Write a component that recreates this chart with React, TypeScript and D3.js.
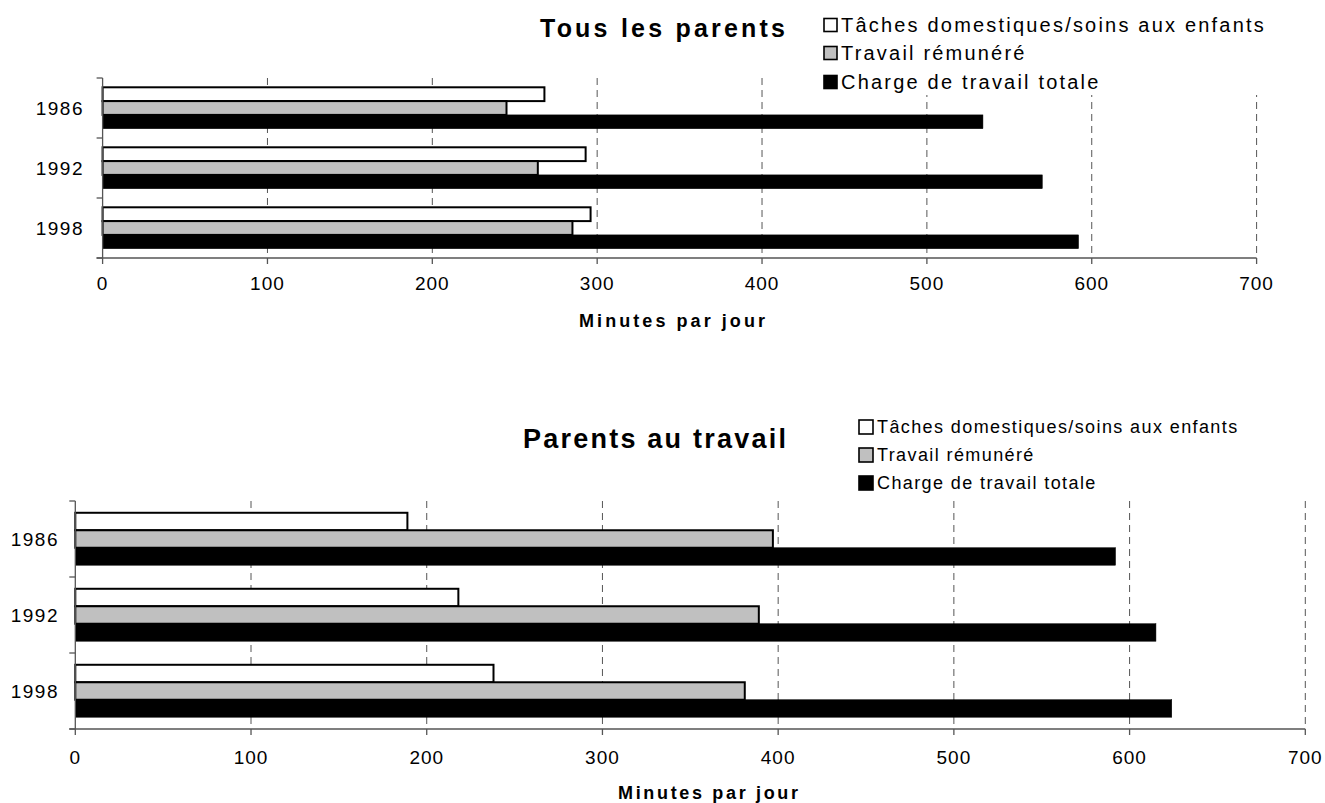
import React from "react";
import * as d3 from "d3";

const years = ["1986", "1992", "1998"];
const seriesNames = [
  "Tâches domestiques/soins aux enfants",
  "Travail rémunéré",
  "Charge de travail totale",
];
const seriesFills = ["#ffffff", "#c0c0c0", "#000000"];

const allDomestic = [268, 293, 296];
const allPaid = [245, 264, 285];
const allTotal = [534, 570, 592];

const workDomestic = [189, 218, 238];
const workPaid = [397, 389, 381];
const workTotal = [592, 615, 624];

const xTicks = [0, 100, 200, 300, 400, 500, 600, 700];
const titles = ["Tous les parents", "Parents au travail"];
const axisTitle = "Minutes par jour";

const FONT = "'Liberation Sans', Arial, Helvetica, sans-serif";

type PanelCfg = {
  title: string;
  series: number[][];
  x0: number;
  x1: number;
  yTop: number;
  yBot: number;
  titleX: number;
  titleY: number;
  titleSize: number;
  titleLen: number;
  legX: number;
  legRows: number[];
  legSize: number;
  legFont: number;
  legLs: number;
  legBg: [number, number, number, number] | null;
  yearRight: number;
  yearFont: number;
  tickLabelY: number;
  axisTitleX: number;
  axisTitleY: number;
  axisTitleLen: number;
};

function Panel({ cfg }: { cfg: PanelCfg }) {
  const x = d3.scaleLinear().domain([0, 700]).range([cfg.x0, cfg.x1]);
  const y = d3.scaleBand<string>().domain(years).range([cfg.yTop, cfg.yBot]);
  const bw = y.bandwidth();
  const pad = bw * 0.155;
  const inner = d3
    .scaleBand<number>()
    .domain([0, 1, 2])
    .range([pad, bw - pad]);
  const bh = inner.bandwidth();
  const boundaries = [cfg.yTop, ...years.map((yr) => (y(yr) as number) + bw)];

  return (
    <g>
      {xTicks.slice(1).map((t) => (
        <line
          key={"g" + t}
          x1={x(t)}
          x2={x(t)}
          y1={cfg.yTop}
          y2={cfg.yBot}
          stroke="#555"
          strokeWidth={1}
          strokeDasharray="7,5"
        />
      ))}
      {cfg.legBg && (
        <rect
          x={cfg.legBg[0]}
          y={cfg.legBg[1]}
          width={cfg.legBg[2]}
          height={cfg.legBg[3]}
          fill="#fff"
        />
      )}
      {years.map((yr, i) =>
        cfg.series.map((vals, s) => (
          <rect
            key={yr + s}
            x={x(0)}
            y={(y(yr) as number) + (inner(s) as number)}
            width={x(vals[i]) - x(0)}
            height={bh}
            fill={seriesFills[s]}
            stroke="#000"
            strokeWidth={s === 2 ? 0.5 : 2}
          />
        ))
      )}
      <line
        x1={cfg.x0}
        x2={cfg.x0}
        y1={cfg.yTop}
        y2={cfg.yBot}
        stroke="#555"
        strokeWidth={1.3}
      />
      <line
        x1={cfg.x0 - 6}
        x2={cfg.x1}
        y1={cfg.yBot}
        y2={cfg.yBot}
        stroke="#555"
        strokeWidth={1.3}
      />
      {boundaries.map((b, i) => (
        <line
          key={"yt" + i}
          x1={cfg.x0 - 6}
          x2={cfg.x0}
          y1={b}
          y2={b}
          stroke="#555"
          strokeWidth={1.3}
        />
      ))}
      {xTicks.map((t) => (
        <line
          key={"xt" + t}
          x1={x(t)}
          x2={x(t)}
          y1={cfg.yBot}
          y2={cfg.yBot + 6}
          stroke="#555"
          strokeWidth={1.3}
        />
      ))}
      {xTicks.map((t) => (
        <text
          key={"xl" + t}
          x={x(t)}
          y={cfg.tickLabelY}
          textAnchor="middle"
          dominantBaseline="central"
          fontSize={19}
          letterSpacing={1}
          fontFamily={FONT}
          fill="#000"
        >
          {t}
        </text>
      ))}
      {years.map((yr) => (
        <text
          key={"yl" + yr}
          x={cfg.yearRight}
          y={(y(yr) as number) + bw / 2}
          textAnchor="end"
          dominantBaseline="central"
          fontSize={cfg.yearFont}
          letterSpacing={1.5}
          fontFamily={FONT}
          fill="#000"
        >
          {yr}
        </text>
      ))}
      <text
        x={cfg.axisTitleX}
        y={cfg.axisTitleY}
        textAnchor="middle"
        dominantBaseline="central"
        fontSize={18}
        fontWeight="bold"
        fontFamily={FONT}
        textLength={cfg.axisTitleLen}
        lengthAdjust="spacing"
        fill="#000"
      >
        {axisTitle}
      </text>
      <text
        x={cfg.titleX}
        y={cfg.titleY}
        fontSize={cfg.titleSize}
        fontWeight="bold"
        fontFamily={FONT}
        textLength={cfg.titleLen}
        lengthAdjust="spacing"
        fill="#000"
      >
        {cfg.title}
      </text>
      {seriesNames.map((name, s) => (
        <g key={"lg" + s}>
          <rect
            x={cfg.legX}
            y={cfg.legRows[s] - cfg.legSize / 2}
            width={cfg.legSize}
            height={cfg.legSize}
            fill={seriesFills[s]}
            stroke="#000"
            strokeWidth={1.6}
          />
          <text
            x={cfg.legX + cfg.legSize + 4}
            y={cfg.legRows[s]}
            dominantBaseline="central"
            fontSize={cfg.legFont}
            letterSpacing={cfg.legLs}
            fontFamily={FONT}
            fill="#000"
          >
            {name}
          </text>
        </g>
      ))}
    </g>
  );
}

export default function App() {
  const top: PanelCfg = {
    title: titles[0],
    series: [allDomestic, allPaid, allTotal],
    x0: 102.6,
    x1: 1256.6,
    yTop: 78,
    yBot: 258,
    titleX: 540,
    titleY: 37,
    titleSize: 25,
    titleLen: 245,
    legX: 824,
    legRows: [25, 53, 82],
    legSize: 13,
    legFont: 20,
    legLs: 2.2,
    legBg: [805, 4, 500, 91],
    yearRight: 84,
    yearFont: 19,
    tickLabelY: 283,
    axisTitleX: 672,
    axisTitleY: 321,
    axisTitleLen: 186,
  };
  const bottom: PanelCfg = {
    title: titles[1],
    series: [workDomestic, workPaid, workTotal],
    x0: 75.3,
    x1: 1305.3,
    yTop: 501,
    yBot: 729,
    titleX: 523,
    titleY: 448,
    titleSize: 27,
    titleLen: 263,
    legX: 859,
    legRows: [427, 455, 483],
    legSize: 14,
    legFont: 18,
    legLs: 1.4,
    legBg: null,
    yearRight: 59,
    yearFont: 19,
    tickLabelY: 757,
    axisTitleX: 708,
    axisTitleY: 793,
    axisTitleLen: 180,
  };
  return (
    <svg
      width={1325}
      height={803}
      style={{ position: "absolute", left: 0, top: 0, background: "#fff" }}
    >
      <rect x={0} y={0} width={1325} height={803} fill="#fff" />
      <Panel cfg={top} />
      <Panel cfg={bottom} />
    </svg>
  );
}
